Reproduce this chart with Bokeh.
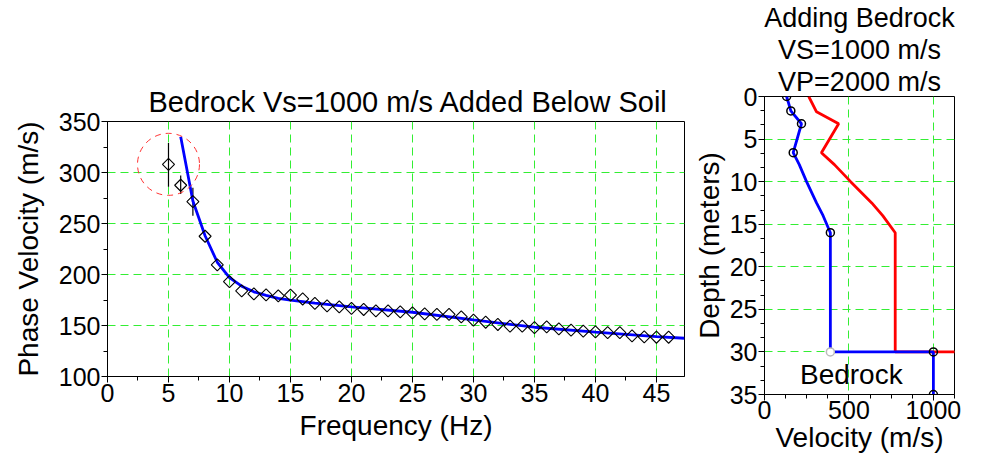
from bokeh.plotting import figure
from bokeh.layouts import row, column
from bokeh.models import Range1d, SingleIntervalTicker, Title, Label
from bokeh.embed import file_html
from bokeh.resources import INLINE
import numpy as np

# ---------------- Left panel: dispersion data ----------------
freq = [5, 6, 7, 8, 9, 10, 11, 12, 13, 14, 15, 16, 17, 18, 19, 20, 21, 22, 23, 24,
        25, 26, 27, 28, 29, 30, 31, 32, 33, 34, 35, 36, 37, 38, 39, 40, 41, 42, 43,
        44, 45, 46]
phase_vel = [308, 287.5, 271.5, 237.5, 209.5, 193, 184, 181, 180, 179, 179.7, 176,
             171.6, 169.2, 168.2, 166.7, 165.7, 164.3, 164.3, 163.3, 162.4, 161.4,
             161, 161, 158.4, 155.2, 153.2, 151, 149.3, 149.3, 148, 148.6, 146.7,
             145.4, 144.4, 143.7, 143.1, 143.1, 139.8, 138.8, 138.5, 138.5]
err_freq = [5, 6, 7]
err_low = [286, 279, 257.5]
err_high = [329, 297, 285]

model_freq = [6.0, 7, 8, 9, 10, 11, 12, 13, 14, 15, 17, 20, 25, 30, 35, 40, 45, 47.3]
model_vel = [335, 272, 238, 212, 197, 188.5, 183, 179.5, 176.5, 174.8, 172, 168.2,
             163, 155.5, 148.3, 143.5, 139, 137.5]

highlight_freq = [5]
highlight_vel = [308]

# ---------------- Right panel: velocity profile ----------------
vs_vel = [131, 156, 219, 170, 206, 249, 308, 347, 390, 390, 1000, 1000]
vs_depth = [0, 1.7, 3.2, 6.6, 8, 10, 12.5, 14, 16, 30, 30, 35]
vp_vel = [262, 308, 439, 337, 414, 510, 635, 700, 774, 774, 2000, 2000]
vp_depth = [0, 1.8, 3.2, 6.6, 8, 10, 12.5, 14, 16, 30, 30, 35]
layer_vel = [131, 156, 219, 170, 390, 1000, 1000]
layer_depth = [0, 1.7, 3.2, 6.6, 16, 30, 35]
interface_vel = [390]
interface_depth = [30]

title_lines = ["Adding Bedrock", "VS=1000 m/s", "VP=2000 m/s"]

FONT = "Liberation Sans"
GRID = "#33ee33"


def style(p, tick_size="25px", label_size="28px"):
    for ax in (p.xaxis[0], p.yaxis[0]):
        ax.major_label_text_font = FONT
        ax.major_label_text_font_size = tick_size
        ax.major_label_text_color = "black"
        ax.axis_label_text_font = FONT
        ax.axis_label_text_font_size = label_size
        ax.axis_label_text_font_style = "normal"
        ax.axis_label_text_color = "black"
        ax.axis_line_color = "black"
        ax.major_tick_line_color = "black"
        ax.minor_tick_line_color = "black"
        ax.major_tick_in = 0
        ax.major_tick_out = 6
        ax.minor_tick_in = 0
        ax.minor_tick_out = 4
        ax.major_label_standoff = 1
        ax.axis_label_standoff = 2
    p.grid.grid_line_color = GRID
    p.grid.grid_line_dash = "8 5"
    p.grid.grid_line_width = 1
    p.outline_line_color = "black"
    p.outline_line_width = 1
    p.background_fill_color = "white"
    p.border_fill_color = "white"


# Left figure
p1 = figure(width=690, height=455, x_range=Range1d(0, 47.3), y_range=Range1d(100, 350),
            output_backend="svg", toolbar_location=None,
            min_border_left=107, min_border_right=6, min_border_top=121,
            min_border_bottom=79)
p1.title.text = "Bedrock Vs=1000 m/s Added Below Soil"
p1.title.align = "left"
p1.title.text_font = FONT
p1.title.text_font_size = "29px"
p1.title.text_font_style = "normal"
p1.title.text_color = "black"
p1.title.standoff = 7
p1.title.offset = 41
p1.xaxis.ticker = SingleIntervalTicker(interval=5, num_minor_ticks=2)
p1.yaxis.ticker = SingleIntervalTicker(interval=50, num_minor_ticks=2)
p1.xaxis.axis_label = "Frequency (Hz)"
p1.yaxis.axis_label = "Phase Velocity (m/s)"
style(p1)
p1.yaxis.axis_label_standoff = 12
p1.xaxis.axis_label_standoff = 5

p1.segment(x0=err_freq, y0=err_low, x1=err_freq, y1=err_high, line_color="black",
           line_width=1.2)
p1.line(model_freq, model_vel, line_color="#0000ff", line_width=2.8)
p1.scatter(freq, phase_vel, marker="square", angle=np.pi / 4, size=8.5,
           fill_color=None, line_color="black", line_width=1.1)
p1.scatter(highlight_freq, highlight_vel, marker="circle", size=62, fill_color=None,
           line_color="#ff3333", line_dash="6 5", line_width=1)

# Right figure
p2 = figure(width=299, height=455, x_range=Range1d(0, 1125), y_range=Range1d(35, 0),
            output_backend="svg", toolbar_location=None, title=None,
            min_border_left=68, min_border_right=35, min_border_top=94,
            min_border_bottom=61)
for txt in reversed(title_lines):
    p2.add_layout(Title(text=txt, align="center", text_font=FONT,
                        text_font_size="27px", text_font_style="normal",
                        text_color="black", standoff=0), "above")
p2.xaxis.ticker = SingleIntervalTicker(interval=500, num_minor_ticks=4)
p2.yaxis.ticker = SingleIntervalTicker(interval=5, num_minor_ticks=3)
p2.xaxis.axis_label = "Velocity (m/s)"
p2.yaxis.axis_label = "Depth (meters)"
style(p2)
p2.xaxis.axis_label_standoff = 0
p2.xaxis.major_label_standoff = 0

p2.line(vp_vel, vp_depth, line_color="#ff0000", line_width=2.8)
p2.line(vs_vel, vs_depth, line_color="#0000ff", line_width=2.8)
p2.scatter(layer_vel, layer_depth, marker="circle", size=8, fill_color=None,
           line_color="black", line_width=1.5)
p2.scatter(interface_vel, interface_depth, marker="circle", size=8,
           fill_color="white", line_color="#bbbbbb", line_width=1.5)
p2.add_layout(Label(x=514, y=32.6, text="Bedrock", text_align="center",
                    text_baseline="middle", text_font=FONT, text_font_size="28px",
                    text_color="black"))

layout = row(column(p1), column(p2))
open("out.html", "w").write(file_html(layout, INLINE))
